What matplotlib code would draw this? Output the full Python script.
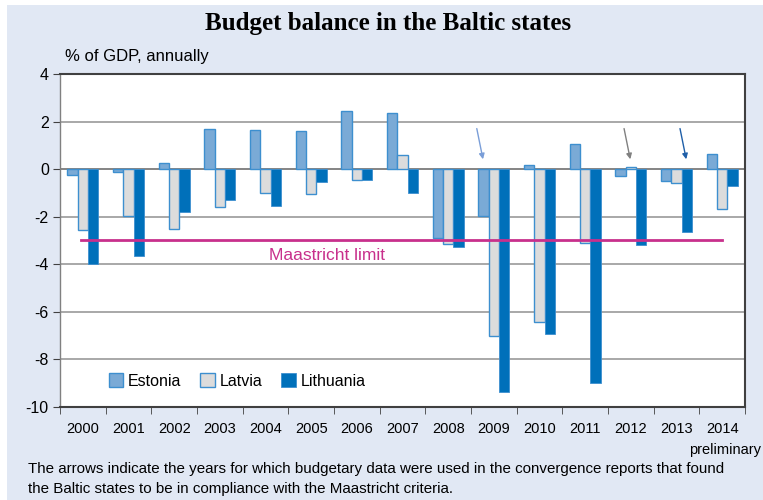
import matplotlib.pyplot as plt
from matplotlib.patches import Rectangle
import numpy as np

years = ['2000', '2001', '2002', '2003', '2004', '2005', '2006', '2007',
         '2008', '2009', '2010', '2011', '2012', '2013', '2014']
estonia = [-0.25, -0.1, 0.24, 1.67, 1.64, 1.6, 2.44, 2.37,
           -2.91, -1.95, 0.18, 1.04, -0.29, -0.48, 0.63]
latvia = [-2.56, -1.97, -2.53, -1.6, -0.99, -1.04, -0.46, 0.59,
          -3.15, -7.0, -6.41, -3.1, 0.08, -0.57, -1.67]
lithuania = [-4.0, -3.64, -1.82, -1.3, -1.55, -0.53, -0.46, -1.02,
             -3.29, -9.35, -6.95, -9.0, -3.17, -2.66, -0.7]
maastricht = -3

c_est = '#7AAAD6'
c_lat = '#DCDCDC'
c_lit = '#0070BA'
edge = '#3D8FCF'
bg = '#E1E8F4'

plt.rcParams['font.family'] = ['Liberation Sans', 'DejaVu Sans']
plt.rcParams['axes.unicode_minus'] = False

fig = plt.figure(figsize=(7.63, 5.0), dpi=100, facecolor='white')
fig.patches.append(Rectangle((7 / 763, 0), 1, 1 - 5 / 500, transform=fig.transFigure,
                             facecolor=bg, edgecolor='none', zorder=-10))
ax = fig.add_axes([0.0786, 0.186, 0.8978, 0.666])
ax.set_facecolor('white')

x = np.arange(len(years))
w = 0.225
ax.bar(x - w, estonia, w, color=c_est, edgecolor=edge, linewidth=1, label='Estonia', zorder=3)
ax.bar(x, latvia, w, color=c_lat, edgecolor=edge, linewidth=1, label='Latvia', zorder=3)
ax.bar(x + w, lithuania, w, color=c_lit, edgecolor='#3D8FCF', linewidth=0.6, label='Lithuania', zorder=3)

ax.set_xlim(-0.5, len(years) - 0.5)
ax.set_ylim(-10, 4)
ax.set_yticks(range(-10, 5, 2))
for yv in range(-8, 4, 2):
    ax.axhline(yv, color='#707070' if yv == 0 else '#9A9A9A', lw=1.2, zorder=1)

ax.plot([-0.05, len(years) - 1], [maastricht, maastricht], color='#C8308C', lw=2, zorder=4)
ax.text(5.35, -3.62, 'Maastricht limit', color='#C8308C', fontsize=12.5, ha='center', va='center', zorder=5)

# arrows marking the years used in convergence reports
arrows = [(9, -w, '#7A9ED8'), (12, 0, '#808080'), (13, w, '#1F5FA8')]
for idx, off, col in arrows:
    ax.annotate('', xy=(idx + off, 0.3), xytext=(idx + off - 0.16, 1.82),
                arrowprops=dict(arrowstyle='-|>', color=col, lw=1, mutation_scale=8), zorder=5)

ax.set_xticks(x)
ax.set_xticklabels(years, fontsize=10.5)
ax.set_xticks(np.arange(-0.5, len(years)), minor=True)
ax.tick_params(axis='x', which='major', length=0, pad=11)
ax.tick_params(axis='x', which='minor', length=5, color='#404040')
ax.tick_params(axis='y', length=5, labelsize=11.5, color='#404040', pad=3)

for s in ['top', 'right', 'bottom']:
    ax.spines[s].set_color('#404040')
    ax.spines[s].set_linewidth(1.5)
ax.spines['left'].set_color('#808080')
ax.spines['left'].set_linewidth(1)

leg = ax.legend(loc='lower left', bbox_to_anchor=(0.05, 0.012), ncol=3, frameon=False,
                fontsize=11.5, handlelength=0.9, handleheight=0.9, handletextpad=0.3,
                columnspacing=1.2)

fig.text(0.508, 0.953, 'Budget balance in the Baltic states', family='Liberation Serif',
         fontweight='bold', fontsize=18, ha='center', va='center')
fig.text(0.085, 0.886, '% of GDP, annually', fontsize=12, ha='left', va='center')
fig.text(0.998, 0.1, 'preliminary', fontsize=10.5, ha='right', va='center')
fig.text(0.037, 0.062, 'The arrows indicate the years for which budgetary data were used in the convergence reports that found',
         fontsize=10.9, ha='left', va='center')
fig.text(0.037, 0.022, 'the Baltic states to be in compliance with the Maastricht criteria.',
         fontsize=10.9, ha='left', va='center')

fig.savefig('out.png', dpi=100, facecolor=fig.get_facecolor())
